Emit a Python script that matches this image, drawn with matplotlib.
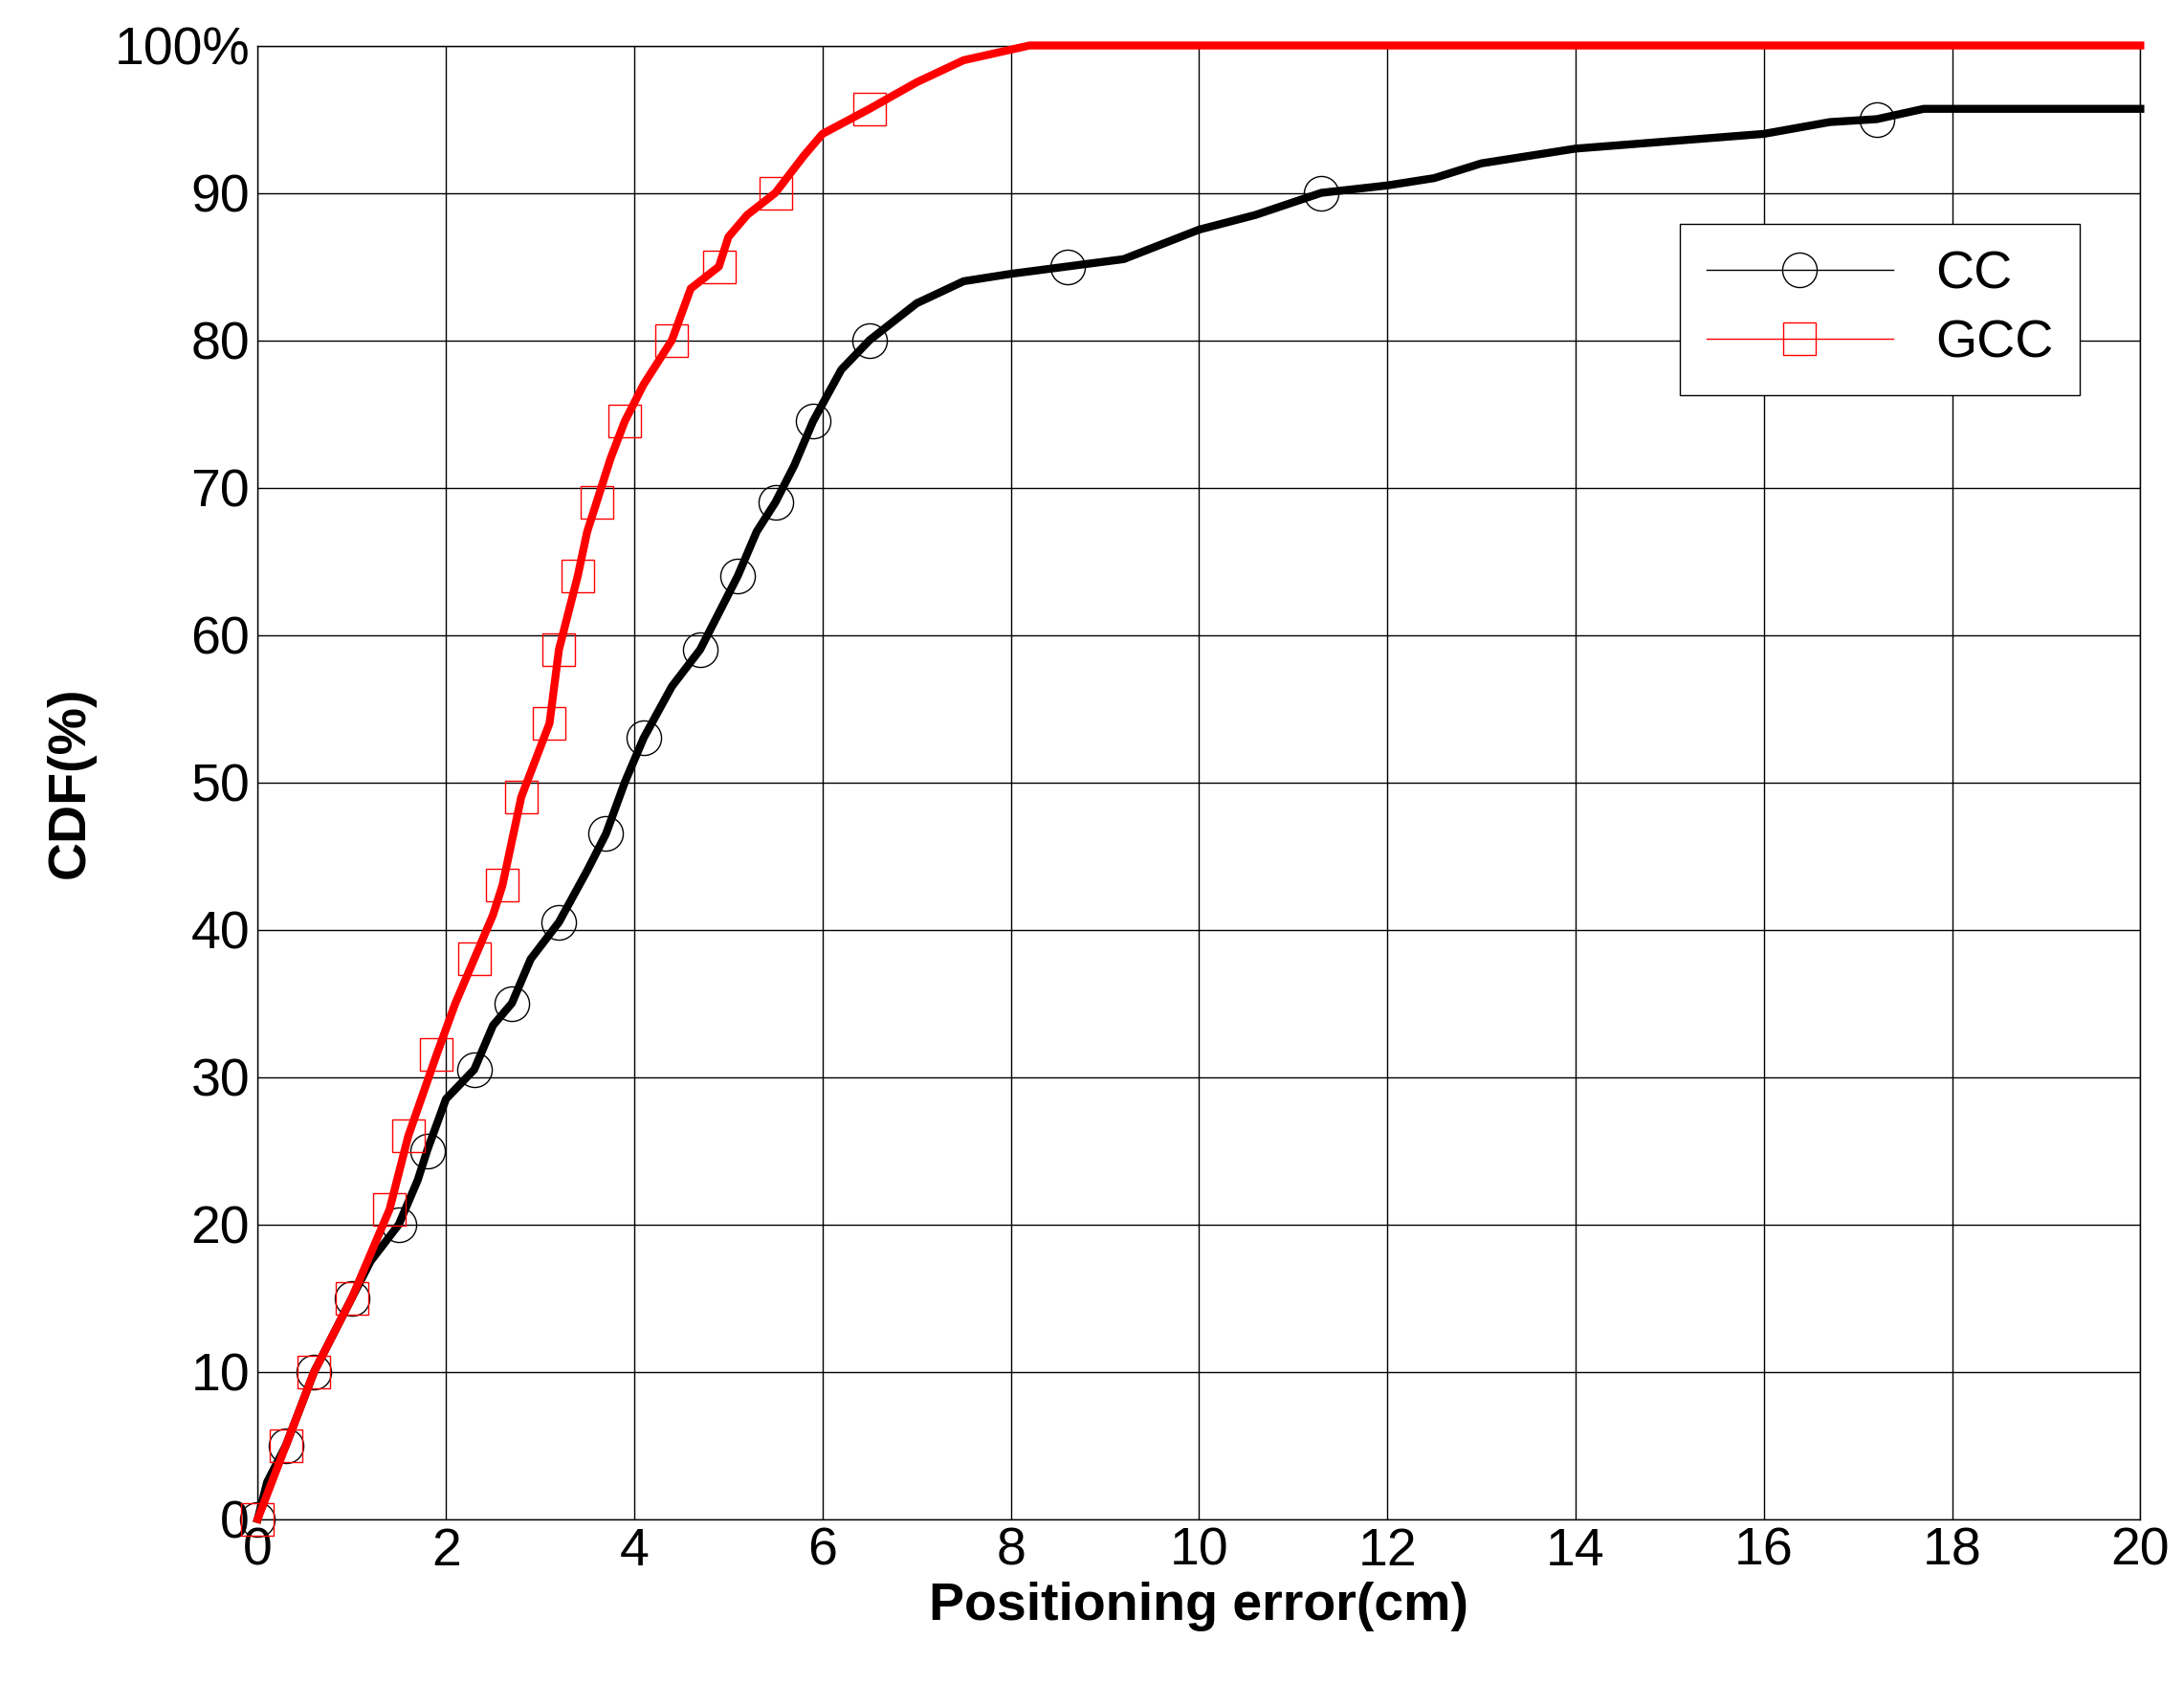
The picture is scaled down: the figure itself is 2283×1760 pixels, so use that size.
import matplotlib.pyplot as plt
import numpy as np
from matplotlib.lines import Line2D

# CDF curves (x = positioning error in cm, y = CDF in %)
cc_x = [0, 0.1, 0.3, 0.45, 0.6, 0.8, 1.0, 1.2, 1.5, 1.7, 1.8, 2.0, 2.3, 2.5, 2.7, 2.9, 3.2, 3.5, 3.7,
        3.9, 4.1, 4.4, 4.7, 4.9, 5.1, 5.3, 5.5, 5.7, 5.9, 6.2, 6.5, 7.0, 7.5, 8.0, 8.6, 9.2, 9.6, 10.0,
        10.6, 11.3, 12.0, 12.5, 13.0, 14.0, 15.0, 16.0, 16.7, 17.2, 17.7, 20.0]
cc_y = [0, 2.5, 5, 7.5, 10, 12.5, 15, 17.5, 20, 23, 25, 28.5, 30.5, 33.5, 35, 38, 40.5, 44, 46.5,
        50, 53, 56.5, 59, 61.5, 64, 67, 69, 71.5, 74.5, 78, 80, 82.5, 84, 84.5, 85, 85.5, 86.5, 87.5,
        88.5, 90, 90.5, 91, 92, 93, 93.5, 94, 94.8, 95, 95.7, 95.7]
cc_marks = [0, 2, 4, 6, 8, 10, 12, 14, 16, 18, 20, 22, 24, 26, 28, 30, 34, 39, 47]

gcc_x = [0, 0.15, 0.3, 0.45, 0.6, 0.8, 1.0, 1.2, 1.4, 1.6, 1.9, 2.1, 2.3, 2.5, 2.6, 2.8, 2.95, 3.1,
         3.2, 3.3, 3.4, 3.5, 3.6, 3.75, 3.9, 4.1, 4.4, 4.6, 4.9, 5.0, 5.2, 5.5, 5.8, 6.0, 6.5, 7.0,
         7.5, 8.2, 20.0]
gcc_y = [0, 2.5, 5, 7.5, 10, 12.5, 15, 18, 21, 26, 31.5, 35, 38, 41, 43, 49, 51.5, 54, 59, 61.5,
         64, 67, 69, 72, 74.5, 77, 80, 83.5, 85, 87, 88.5, 90, 92.5, 94, 95.7, 97.5, 99, 100, 100]
gcc_marks = [0, 2, 4, 6, 8, 9, 10, 12, 14, 15, 17, 18, 20, 22, 24, 26, 28, 31, 34]

plt.rcParams['font.family'] = ['Liberation Sans', 'DejaVu Sans']
fig = plt.figure(figsize=(22.83, 17.6), dpi=100)
ax = fig.add_axes([0.118, 0.098, 0.862, 0.875])

ax.plot(cc_x, cc_y, color='black', linewidth=6, marker='o', markersize=26,
        markerfacecolor='none', markeredgecolor='black', markeredgewidth=1,
        markevery=cc_marks, clip_on=False, zorder=3)
ax.plot(gcc_x, gcc_y, color='red', linewidth=6, marker='s', markersize=24,
        markerfacecolor='none', markeredgecolor='red', markeredgewidth=1,
        markevery=gcc_marks, clip_on=False, zorder=4)

ax.set_xlim(0, 20)
ax.set_ylim(0, 100)
ax.set_xticks(np.arange(0, 21, 2))
ax.set_yticks(np.arange(0, 101, 10))
ax.set_yticklabels([str(v) for v in range(0, 100, 10)] + ['100%'])
ax.tick_params(labelsize=40, length=0, pad=6)
ax.grid(True, color='black', linewidth=1)
for s in ax.spines.values():
    s.set_color('black')
    s.set_linewidth(1)

ax.set_xlabel('Positioning error(cm)', fontsize=40, fontweight='bold', labelpad=4)
ax.set_ylabel('CDF(%)', fontsize=40, fontweight='bold', labelpad=14)

handles = [Line2D([], [], color='black', linewidth=1, marker='o', markersize=26,
                  markerfacecolor='none', markeredgewidth=1),
           Line2D([], [], color='red', linewidth=1, marker='s', markersize=24,
                  markerfacecolor='none', markeredgewidth=1)]
leg = ax.legend(handles, ['CC', 'GCC'], loc='upper right', bbox_to_anchor=(0.982, 0.897),
                fontsize=40, fancybox=False, framealpha=1, edgecolor='black',
                handlelength=3.5, borderpad=0.5, labelspacing=0.35)
leg.get_frame().set_linewidth(1)

fig.savefig('out.png', dpi=100)
